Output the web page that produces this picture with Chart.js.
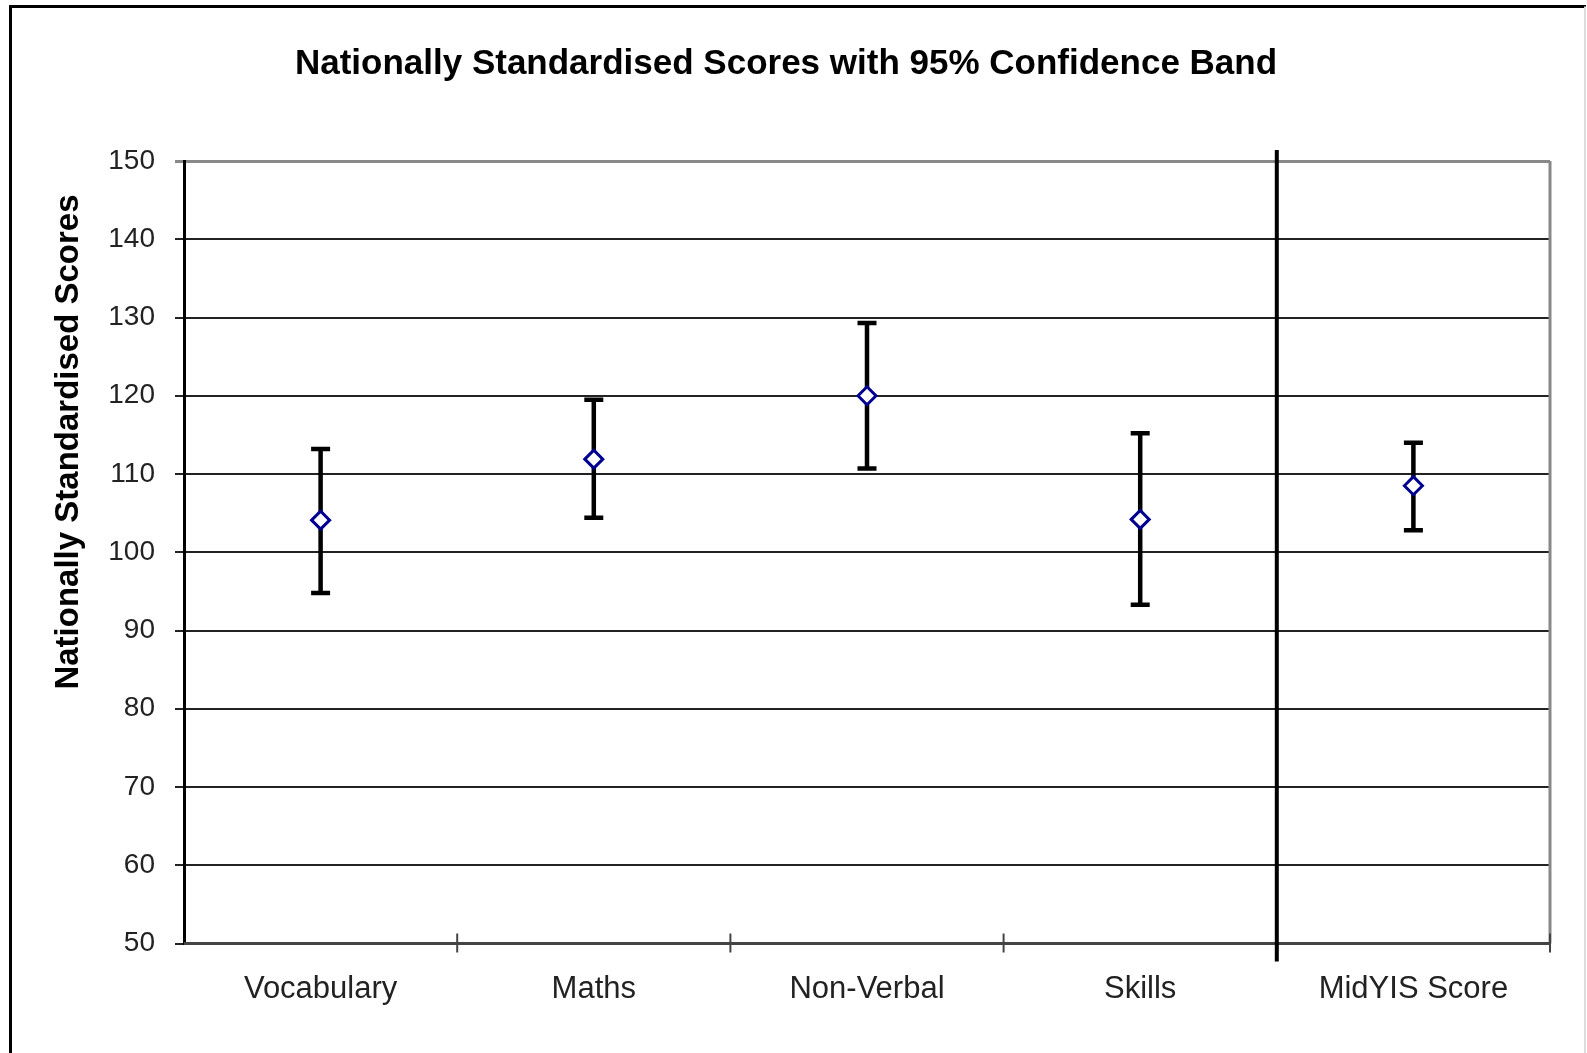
<!DOCTYPE html>
<html>
<head>
<meta charset="utf-8">
<script src="https://cdn.jsdelivr.net/npm/chart.js@4"></script>
<style>
    html, body { margin: 0; padding: 0; background: #fff; }
    #chart { display: block; }
</style>
</head>
<body>
<canvas id="chart" width="1587" height="1053"></canvas>
<script>
// Chart data
const categories = ['Vocabulary', 'Maths', 'Non-Verbal', 'Skills', 'MidYIS Score'];
const scores = [104.1, 111.9, 120.0, 104.2, 108.5];
const upperBand = [113.2, 119.5, 129.3, 115.2, 114.0];
const lowerBand = [94.8, 104.4, 110.7, 93.3, 102.8];
const yMin = 50;
const yMax = 150;
const yStep = 10;

const chartTitle = 'Nationally Standardised Scores with 95% Confidence Band';
const yTitle = 'Nationally Standardised Scores';

const fontFamily = '"Liberation Sans", Arial, sans-serif';

/**
 * Outer frame, plot borders, x ticks, separator and y title
 */
const framePlugin = {
    id: 'frame',
    beforeDraw(chart) {
        const ctx = chart.ctx;
        ctx.save();
        ctx.fillStyle = '#fff';
        ctx.fillRect(0, 0, chart.width, chart.height);
        // outer box
        ctx.strokeStyle = '#000';
        ctx.lineWidth = 3;
        ctx.beginPath();
        ctx.moveTo(10.5, chart.height + 5);
        ctx.lineTo(10.5, 6.5);
        ctx.lineTo(1586, 6.5);
        ctx.stroke();
        ctx.strokeStyle = '#ddd';
        ctx.lineWidth = 2;
        ctx.beginPath();
        ctx.moveTo(1585, 6.5);
        ctx.lineTo(1585, chart.height);
        ctx.stroke();
        ctx.restore();
    },
    afterDraw(chart) {
        const ctx = chart.ctx;
        const x = chart.scales.x;
        const area = chart.chartArea;
        ctx.save();
        // right border of plot
        ctx.strokeStyle = '#888';
        ctx.lineWidth = 3;
        ctx.beginPath();
        ctx.moveTo(area.right, area.top);
        ctx.lineTo(area.right, area.bottom);
        ctx.stroke();
        // bottom axis
        ctx.strokeStyle = '#444';
        ctx.lineWidth = 3;
        ctx.beginPath();
        ctx.moveTo(area.left, area.bottom);
        ctx.lineTo(area.right, area.bottom);
        ctx.stroke();
        // x ticks at category boundaries
        ctx.lineWidth = 2;
        for (let i = 1; i <= categories.length; i++) {
            const px = x.getPixelForValue(i - 0.5);
            ctx.beginPath();
            ctx.moveTo(px, area.bottom - 10);
            ctx.lineTo(px, area.bottom + 9);
            ctx.stroke();
        }
        // separator before the last category
        const sep = x.getPixelForValue(categories.length - 1.5);
        ctx.strokeStyle = '#000';
        ctx.lineWidth = 4;
        ctx.beginPath();
        ctx.moveTo(sep, area.top - 11);
        ctx.lineTo(sep, area.bottom + 18);
        ctx.stroke();
        // y axis title
        ctx.translate(69, 442);
        ctx.rotate(-Math.PI / 2);
        ctx.fillStyle = '#000';
        ctx.font = 'bold 33px ' + fontFamily;
        ctx.textAlign = 'center';
        ctx.textBaseline = 'middle';
        ctx.fillText(yTitle, 0, 0);
        ctx.restore();
    }
};

/**
 * Confidence band error bars, drawn under the markers
 */
const errorBarPlugin = {
    id: 'errorBars',
    beforeDatasetsDraw(chart) {
        const ctx = chart.ctx;
        const x = chart.scales.x;
        const y = chart.scales.y;
        ctx.save();
        ctx.strokeStyle = '#000';
        ctx.lineWidth = 4.5;
        ctx.lineCap = 'butt';
        for (let i = 0; i < categories.length; i++) {
            const px = x.getPixelForValue(i);
            const top = y.getPixelForValue(upperBand[i]);
            const bottom = y.getPixelForValue(lowerBand[i]);
            ctx.beginPath();
            ctx.moveTo(px, top);
            ctx.lineTo(px, bottom);
            ctx.moveTo(px - 9.5, top);
            ctx.lineTo(px + 9.5, top);
            ctx.moveTo(px - 9.5, bottom);
            ctx.lineTo(px + 9.5, bottom);
            ctx.stroke();
        }
        ctx.restore();
    }
};

const chart = new Chart(document.getElementById('chart'), {
    type: 'line',
    data: {
        labels: categories,
        datasets: [
            {
                label: 'Score',
                data: scores,
                showLine: false,
                pointStyle: 'rectRot',
                pointRadius: 9,
                pointHoverRadius: 9,
                pointBorderWidth: 3,
                pointBorderColor: '#000090',
                pointBackgroundColor: '#fff'
            }
        ]
    },
    options: {
        responsive: false,
        animation: false,
        devicePixelRatio: 1,
        layout: {
            padding: { left: 22, right: 37, top: 0, bottom: 0 }
        },
        plugins: {
            legend: { display: false },
            tooltip: { enabled: false },
            title: {
                display: true,
                text: chartTitle,
                color: '#000',
                font: { family: fontFamily, size: 35, weight: 'bold' },
                padding: { top: 43, bottom: 76 }
            }
        },
        scales: {
            x: {
                type: 'category',
                offset: true,
                grid: { display: false, drawTicks: false },
                border: { display: false },
                ticks: {
                    color: '#222',
                    padding: 27,
                    font: { family: fontFamily, size: 31 },
                    maxRotation: 0
                },
                afterFit(scale) {
                    scale.height = 109.5;
                }
            },
            y: {
                min: yMin,
                max: yMax,
                ticks: {
                    stepSize: yStep,
                    color: '#222',
                    padding: 20,
                    font: { family: fontFamily, size: 28 }
                },
                grid: {
                    tickLength: 9,
                    color: (c) => c.tick && c.tick.value === yMax ? '#888' : '#222',
                    lineWidth: (c) => c.tick && c.tick.value === yMax ? 3 : 2
                },
                border: { color: '#000', width: 3 },
                afterFit(scale) {
                    scale.width = 162;
                }
            }
        }
    },
    plugins: [framePlugin, errorBarPlugin]
});
</script>
</body>
</html>
